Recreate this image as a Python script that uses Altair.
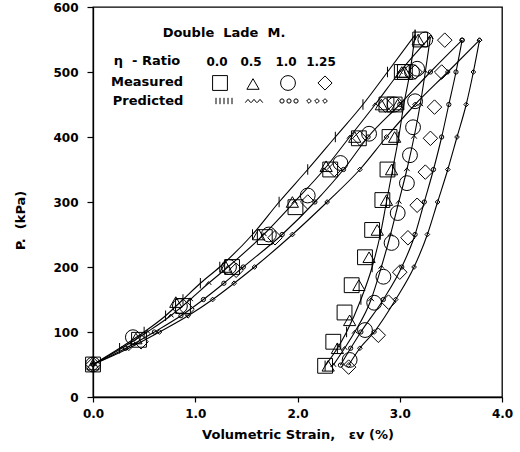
import altair as alt
import pandas as pd

ETA = ["0.0", "0.5", "1.0", "1.25"]

# ---------------- Predicted curves (loading) ----------------
pl_y_00 = [50, 75, 100, 125, 150, 175, 200, 250, 300, 350, 400, 450, 500, 557]
pl_x_00 = [0.0, 0.26, 0.50, 0.71, 0.88, 1.05, 1.24, 1.56, 1.82, 2.10, 2.37, 2.64, 2.88, 3.15]
pl_y_05 = [50, 75, 100, 125, 150, 175, 200, 250, 300, 350, 400, 450, 500, 554]
pl_x_05 = [0.0, 0.28, 0.53, 0.76, 0.95, 1.13, 1.32, 1.67, 1.97, 2.26, 2.51, 2.76, 3.00, 3.30]
pl_y_10 = [50, 75, 100, 125, 150, 175, 200, 250, 300, 350, 400, 450, 500, 549]
pl_x_10 = [0.0, 0.32, 0.60, 0.86, 1.08, 1.28, 1.47, 1.85, 2.17, 2.45, 2.69, 3.00, 3.30, 3.61]
pl_y_125 = [50, 75, 100, 125, 150, 175, 200, 250, 300, 350, 400, 450, 500, 549]
pl_x_125 = [0.0, 0.35, 0.65, 0.93, 1.17, 1.38, 1.58, 1.95, 2.29, 2.61, 2.87, 3.15, 3.47, 3.78]

# ---------------- Predicted curves (unloading) ----------------
pu_y_00 = [48, 75, 100, 150, 200, 250, 300, 350, 400, 450, 500, 557]
pu_x_00 = [2.27, 2.39, 2.48, 2.62, 2.73, 2.81, 2.87, 2.93, 2.99, 3.04, 3.10, 3.15]
pu_y_05 = [49, 75, 100, 150, 200, 250, 300, 350, 400, 450, 500, 554]
pu_x_05 = [2.35, 2.46, 2.56, 2.72, 2.82, 2.91, 2.99, 3.07, 3.14, 3.20, 3.25, 3.30]
pu_y_10 = [49, 75, 100, 150, 200, 250, 300, 350, 400, 450, 500, 549]
pu_x_10 = [2.42, 2.52, 2.62, 2.84, 3.02, 3.15, 3.24, 3.33, 3.41, 3.48, 3.55, 3.61]
pu_y_125 = [49, 75, 100, 150, 200, 250, 300, 350, 400, 450, 500, 549]
pu_x_125 = [2.50, 2.61, 2.75, 2.96, 3.14, 3.27, 3.37, 3.47, 3.56, 3.65, 3.72, 3.78]

# ---------------- Measured points ----------------
ml_x_00 = [0.0, 0.45, 0.88, 1.36, 1.68, 1.98, 2.32, 2.60, 2.87, 3.05, 3.20]
ml_y_00 = [50, 88, 140, 200, 246, 292, 350, 398, 450, 500, 550]
mu_x_00 = [3.02, 2.95, 2.90, 2.88, 2.83, 2.73, 2.66, 2.53, 2.46, 2.35, 2.27]
mu_y_00 = [500, 450, 400, 350, 303, 257, 215, 172, 130, 85, 48]

ml_x_05 = [0.0, 0.42, 0.81, 1.30, 1.62, 1.95, 2.28, 2.56, 2.82, 3.02, 3.18]
ml_y_05 = [50, 90, 146, 200, 250, 300, 355, 400, 450, 500, 550]
mu_x_05 = [3.05, 2.98, 2.95, 2.92, 2.87, 2.78, 2.70, 2.60, 2.51, 2.39, 2.30]
mu_y_05 = [500, 450, 400, 350, 303, 257, 215, 172, 118, 75, 48]

ml_x_10 = [0.0, 0.39, 0.85, 1.33, 1.72, 2.10, 2.42, 2.70, 2.95, 3.12, 3.25]
ml_y_10 = [50, 92, 140, 200, 250, 310, 360, 405, 450, 500, 550]
mu_x_10 = [3.17, 3.15, 3.13, 3.10, 3.07, 2.98, 2.92, 2.84, 2.75, 2.66, 2.51]
mu_y_10 = [505, 455, 415, 372, 329, 283, 237, 185, 145, 103, 57]

ml_x_125 = [0.0, 0.47, 0.92, 1.40, 1.78, 2.10, 2.36, 2.61, 2.86, 3.15, 3.44]
ml_y_125 = [50, 85, 135, 195, 245, 300, 350, 398, 449, 500, 549]
mu_x_125 = [3.41, 3.34, 3.30, 3.25, 3.17, 3.08, 3.00, 2.89, 2.79, 2.50]
mu_y_125 = [500, 446, 398, 346, 295, 245, 192, 146, 95, 46]

pred = {
    "0.0": [(pl_x_00, pl_y_00), (pu_x_00, pu_y_00)],
    "0.5": [(pl_x_05, pl_y_05), (pu_x_05, pu_y_05)],
    "1.0": [(pl_x_10, pl_y_10), (pu_x_10, pu_y_10)],
    "1.25": [(pl_x_125, pl_y_125), (pu_x_125, pu_y_125)],
}
meas = {
    "0.0": [(ml_x_00, ml_y_00), (mu_x_00, mu_y_00)],
    "0.5": [(ml_x_05, ml_y_05), (mu_x_05, mu_y_05)],
    "1.0": [(ml_x_10, ml_y_10), (mu_x_10, mu_y_10)],
    "1.25": [(ml_x_125, ml_y_125), (mu_x_125, mu_y_125)],
}

rows = []
for e, branches in pred.items():
    for b, (xs, ys) in enumerate(branches):
        for x, y in zip(xs, ys):
            rows.append({"x": x, "y": y, "eta": e, "curve": f"{e}-{b}"})
pdf = pd.DataFrame(rows)

mrows = []
for e, branches in meas.items():
    for xs, ys in branches:
        for x, y in zip(xs, ys):
            mrows.append({"x": x, "y": y, "eta": e})
mdf = pd.DataFrame(mrows)

FONT = "DejaVu Sans"
W, H = 409, 390
NB = "\u00a0"

xenc = alt.X("x:Q", scale=alt.Scale(domain=[0, 4], nice=False),
             axis=alt.Axis(values=[0, 1, 2, 3, 4], format=".1f", grid=False,
                           title=f"Volumetric Strain,{NB}{NB}{NB}εv{NB}(%)", tickSize=5,
                           labelPadding=6, titlePadding=9, labelFlush=False,
                           titleFontSize=13))
yenc = alt.Y("y:Q", scale=alt.Scale(domain=[0, 600], nice=False),
             axis=alt.Axis(values=[0, 100, 200, 300, 400, 500, 600], grid=False,
                           title=f"P.{NB}{NB}(kPa)", tickSize=6, labelPadding=9,
                           titlePadding=25, labelFlush=False, titleY=213,
                           titleFontSize=13))

lines = alt.Chart(pdf).mark_line(color="black", strokeWidth=1.1, interpolate="monotone").encode(
    x=xenc, y=yenc, detail="curve:N", order=alt.Order("x:Q"))

PRED_SHAPES = {
    "0.0": ("M0,-1L0,1", 110),
    "0.5": ("M-1,0.6L0,-0.6L1,0.6", 30),
    "1.0": ("circle", 18),
    "1.25": ("diamond", 22),
}
pred_layers = []
for e, (shp, sz) in PRED_SHAPES.items():
    pred_layers.append(
        alt.Chart(pdf).transform_filter(alt.datum.eta == e).mark_point(
            shape=shp, size=sz, filled=False, color="black", strokeWidth=1.0, opacity=1
        ).encode(x="x:Q", y="y:Q"))

MEAS_SHAPES = {
    "0.0": ("square", 220),
    "0.5": ("triangle-up", 150),
    "1.0": ("circle", 220),
    "1.25": ("diamond", 210),
}
meas_layers = []
for e, (shp, sz) in MEAS_SHAPES.items():
    meas_layers.append(
        alt.Chart(mdf).transform_filter(alt.datum.eta == e).mark_point(
            shape=shp, size=sz, filled=False, color="black", strokeWidth=1.0, opacity=1
        ).encode(x="x:Q", y="y:Q"))

# ---------------- In-plot legend (pixel layout) ----------------
OX, OY = 93, 7


def label(text, px, py, size=13, align="center"):
    return alt.Chart(pd.DataFrame({"t": [text]})).mark_text(
        font=FONT, fontWeight="bold", fontSize=size, align=align, baseline="middle", color="black"
    ).encode(x=alt.value(px - OX), y=alt.value(py - OY), text="t:N")


def sym(shape, size, pxs, py, sw=1.0):
    return alt.Chart(pd.DataFrame({"px": [p - OX for p in pxs]})).mark_point(
        shape=shape, size=size, filled=False, color="black", strokeWidth=sw, opacity=1
    ).encode(x=alt.X("px:Q", scale=None), y=alt.value(py - OY))


legend = [
    label(f"Double{NB}{NB}Lade{NB}{NB}M.", 224, 33),
    label(f"η{NB}{NB}-{NB}Ratio", 147, 61),
    label("Measured", 147, 82),
    label("Predicted", 148, 101),
    label("0.0", 217, 62, 12), label("0.5", 251, 62, 12),
    label("1.0", 286, 62, 12), label("1.25", 321, 62, 12),
]

legend_syms = [
    sym("square", 220, [220], 83),
    sym("triangle-up", 150, [253], 84),
    sym("circle", 220, [288], 83),
    sym("diamond", 200, [325], 83),
    sym("M0,-1L0,1", 40, [216, 220, 224, 228, 232], 101),
    sym("M-1,0.6L0,-0.6L1,0.6", 30, [248, 254, 260], 101),
    sym("circle", 18, [282, 289, 296], 101),
    sym("diamond", 22, [309, 317, 325], 101),
]

chart = alt.layer(lines, *pred_layers, *meas_layers, *legend, *legend_syms).properties(
    width=W, height=H,
    padding={"left": 93, "top": 7, "right": 18, "bottom": 55},
    autosize=alt.AutoSizeParams(type="none"),
    background="white",
).configure_view(stroke="black", strokeWidth=1.3).configure_axis(
    domainColor="black", tickColor="black", labelColor="black", titleColor="black",
    labelFont=FONT, labelFontWeight="bold", labelFontSize=12,
    titleFont=FONT, titleFontWeight="bold", titleFontSize=12, domainWidth=1.3, tickWidth=1.2,
)

chart.save("out.html", embed_options={"renderer": "svg", "actions": False})
